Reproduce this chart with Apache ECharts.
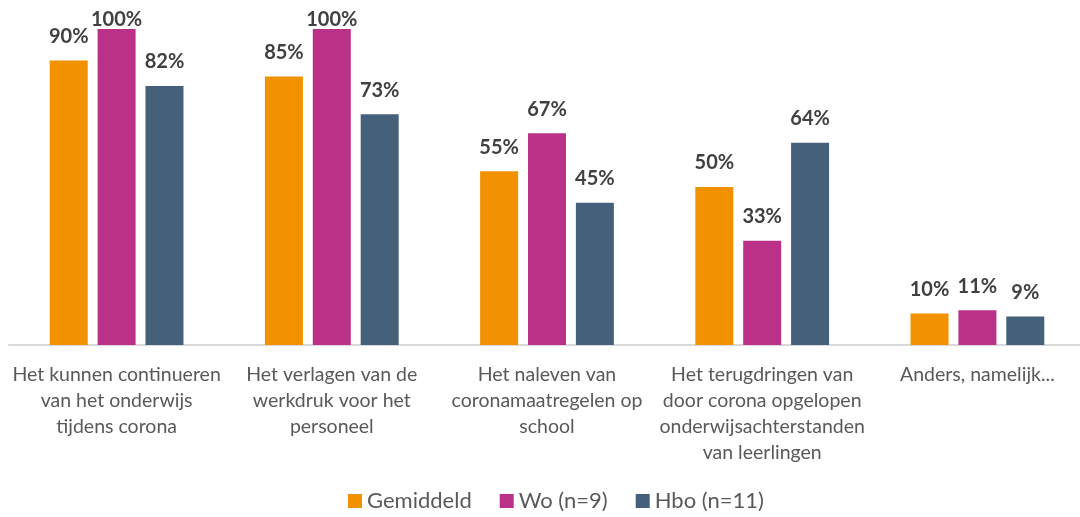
<!DOCTYPE html>
<html>
<head>
<meta charset="utf-8">
<script src="https://cdn.jsdelivr.net/npm/echarts@6/dist/echarts.min.js"></script>
<style>
  html, body { margin: 0; padding: 0; background: #fff; }
  #chart { width: 1080px; height: 517px; }
</style>
</head>
<body>
<div id="chart"></div>
<script>
// Categories (line breaks as shown under the axis)
const categories = [
  'Het kunnen continueren\nvan het onderwijs\ntijdens corona',
  'Het verlagen van de\nwerkdruk voor het\npersoneel',
  'Het naleven van\ncoronamaatregelen op\nschool',
  'Het terugdringen van\ndoor corona opgelopen\nonderwijsachterstanden\nvan leerlingen',
  'Anders, namelijk...'
];

const gemiddeld = [90, 85, 55, 50, 10];
const wo = [100, 100, 67, 33, 11];
const hbo = [82, 73, 45, 64, 9];

const seriesNames = ['Gemiddeld', 'Wo (n=9)', 'Hbo (n=11)'];
const colors = ['#F39200', '#BB3188', '#45607A'];

const FONT = 'Lato, "Open Sans", sans-serif';

// Plot area geometry
const GRID_TOP = 29;
const GRID_BOTTOM = 172;
const CHART_H = 517;
const PLOT_H = CHART_H - GRID_TOP - GRID_BOTTOM;
const Y_MAX = 100;
const LABEL_DIST = 14;
const LABEL_H = 22;

// Labels that would run past the top edge are pulled down onto the bar
function withLabels(values) {
  return values.map(function (v) {
    const top = GRID_TOP + PLOT_H * (1 - v / Y_MAX);
    const fits = top - LABEL_DIST - LABEL_H >= 0;
    return fits ? v : { value: v, label: { distance: -1 } };
  });
}

const chart = echarts.init(document.getElementById('chart'), null, { renderer: 'canvas' });

function makeSeries(name, data, color) {
  return {
    name: name,
    type: 'bar',
    data: withLabels(data),
    barWidth: 38,
    barGap: '26%',
    itemStyle: { color: color },
    label: {
      show: true,
      position: 'top',
      distance: LABEL_DIST,
      formatter: '{c}%',
      color: '#404040',
      fontFamily: FONT,
      fontWeight: 'bold',
      fontSize: 20
    }
  };
}

chart.setOption({
  animation: false,
  grid: {
    left: 9, width: 1076, top: GRID_TOP, bottom: GRID_BOTTOM,
    containLabel: false, outerBoundsMode: 'none'
  },
  legend: {
    bottom: 0,
    left: 343,
    itemWidth: 14,
    itemHeight: 14,
    itemGap: 28,
    icon: 'rect',
    textStyle: { color: '#595959', fontFamily: FONT, fontSize: 22 },
    data: seriesNames
  },
  xAxis: {
    type: 'category',
    data: categories,
    axisLine: { show: true, lineStyle: { color: '#D9D9D9', width: 2 } },
    axisTick: { show: false },
    axisLabel: {
      interval: 0,
      margin: 17,
      color: '#595959',
      fontFamily: FONT,
      fontSize: 19.5,
      lineHeight: 26
    }
  },
  yAxis: {
    type: 'value',
    min: 0,
    max: Y_MAX,
    show: false,
    splitLine: { show: false }
  },
  series: [
    makeSeries(seriesNames[0], gemiddeld, colors[0]),
    makeSeries(seriesNames[1], wo, colors[1]),
    makeSeries(seriesNames[2], hbo, colors[2])
  ]
});
</script>
</body>
</html>
